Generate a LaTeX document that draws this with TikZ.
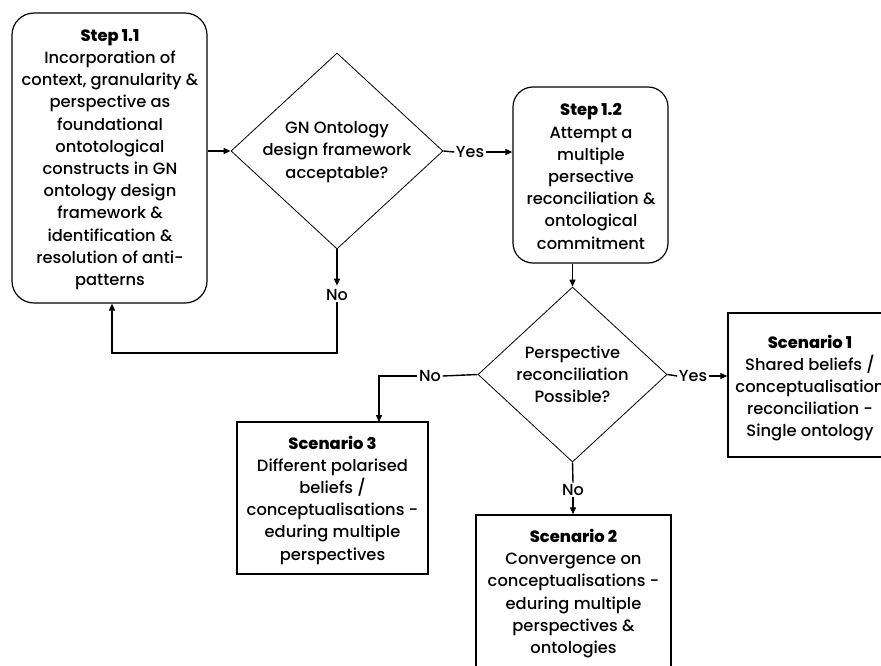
\documentclass[tikz,border=0pt]{standalone}
\usepackage{fontspec}
\setmainfont{Poppins Medium}[BoldFont=Poppins ExtraBold]
\usetikzlibrary{shapes.geometric,arrows.meta}

\tikzset{
  txt/.style={font=\fontsize{16.3}{22.2}\selectfont, align=center, text=black, inner sep=0pt},
  stepbox/.style={draw=black, line width=1.2pt, rounded corners=22pt},
  scenbox/.style={draw=black, line width=1.5pt},
  decision/.style={draw=black, line width=0.8pt, diamond, inner sep=0pt},
  conn/.style={draw=black, line width=1.4pt},
  arr/.style={conn, -{Triangle[length=7pt,width=6pt]}},
  lbl/.style={font=\fontsize{16}{18}\selectfont, text=black, inner sep=1.5pt}
}

\begin{document}
\begin{tikzpicture}[x=1pt,y=-1pt]
\useasboundingbox (0,0) rectangle (881,665);
\clip (0,0) rectangle (881,665);

% boxes
\node[stepbox, minimum width=195pt, minimum height=290pt] (step11) at (109.5,158) {};
\node[txt] at (110,159.5) {\textbf{Step 1.1}\\Incorporation of\\context, granularity \&\\perspective as\\foundational\\ontotological\\constructs in GN\\ontology design\\framework \&\\identification \&\\resolution of anti-\\patterns};

\node[stepbox, rounded corners=20pt, minimum width=155pt, minimum height=176pt] (step12) at (590.5,175) {};
\node[txt] at (591,176.5) {\textbf{Step 1.2}\\Attempt a\\multiple\\persective\\reconciliation \&\\ontological\\commitment};

\node[decision, minimum width=212pt, minimum height=196pt] (d1) at (337,151) {};
\node[txt] at (337,152) {GN Ontology\\design framework\\acceptable?};

\node[decision, minimum width=189pt, minimum height=175pt] (d2) at (572.5,374.5) {};
\node[txt] at (572.5,374.5) {Perspective\\reconciliation\\Possible?};

\node[scenbox, minimum width=164pt, minimum height=144pt] (scen1) at (810,385) {};
\node[txt] at (810,388) {\textbf{Scenario 1}\\Shared beliefs /\\conceptualisation\\reconciliation -\\Single ontology};

\node[scenbox, minimum width=191pt, minimum height=152pt] (scen3) at (332.5,498) {};
\node[txt] at (332.5,500) {\textbf{Scenario 3}\\Different polarised\\beliefs /\\conceptualisations -\\eduring multiple\\perspectives};

\node[scenbox, minimum width=195pt, minimum height=157pt] (scen2) at (573.5,593.5) {};
\node[txt] at (573.5,593.5) {\textbf{Scenario 2}\\Convergence on\\conceptualisations -\\eduring multiple\\perspectives \&\\ontologies};

% branch labels
\node[lbl] (yes1) at (470,152) {Yes};
\node[lbl] (no1) at (337,295) {No};
\node[lbl] (yes2) at (693,376) {Yes};
\node[lbl] (no2) at (430,376) {No};
\node[lbl] (no3) at (573,490) {No};

\coordinate (loop) at (337,353);
\coordinate (s3in) at (379,422);

% connectors
\draw[arr] (step11.east |- d1.west) -- (d1.west);
\draw[conn] (d1.east) -- (yes1.west);
\draw[arr] (yes1.east) -- (step12.west |- yes1.east);
\draw[arr] (d1.south) -- ([yshift=2]no1.north);
\draw[arr] (no1.south) -- (loop) -| ([xshift=2.5]step11.south);
\draw[arr] (step12.south -| d2.north) -- (d2.north);
\draw[conn] (d2.east) -- (yes2.west);
\draw[arr] (yes2.east) -- (scen1.west |- yes2.east);
\draw[conn] (d2.west) -- (no2.east);
\draw[arr] (no2.west) -| (s3in);
\draw[conn] (d2.south) -- (no3.north);
\draw[arr] (no3.south) -- (scen2.north -| no3.south);
\end{tikzpicture}
\end{document}
